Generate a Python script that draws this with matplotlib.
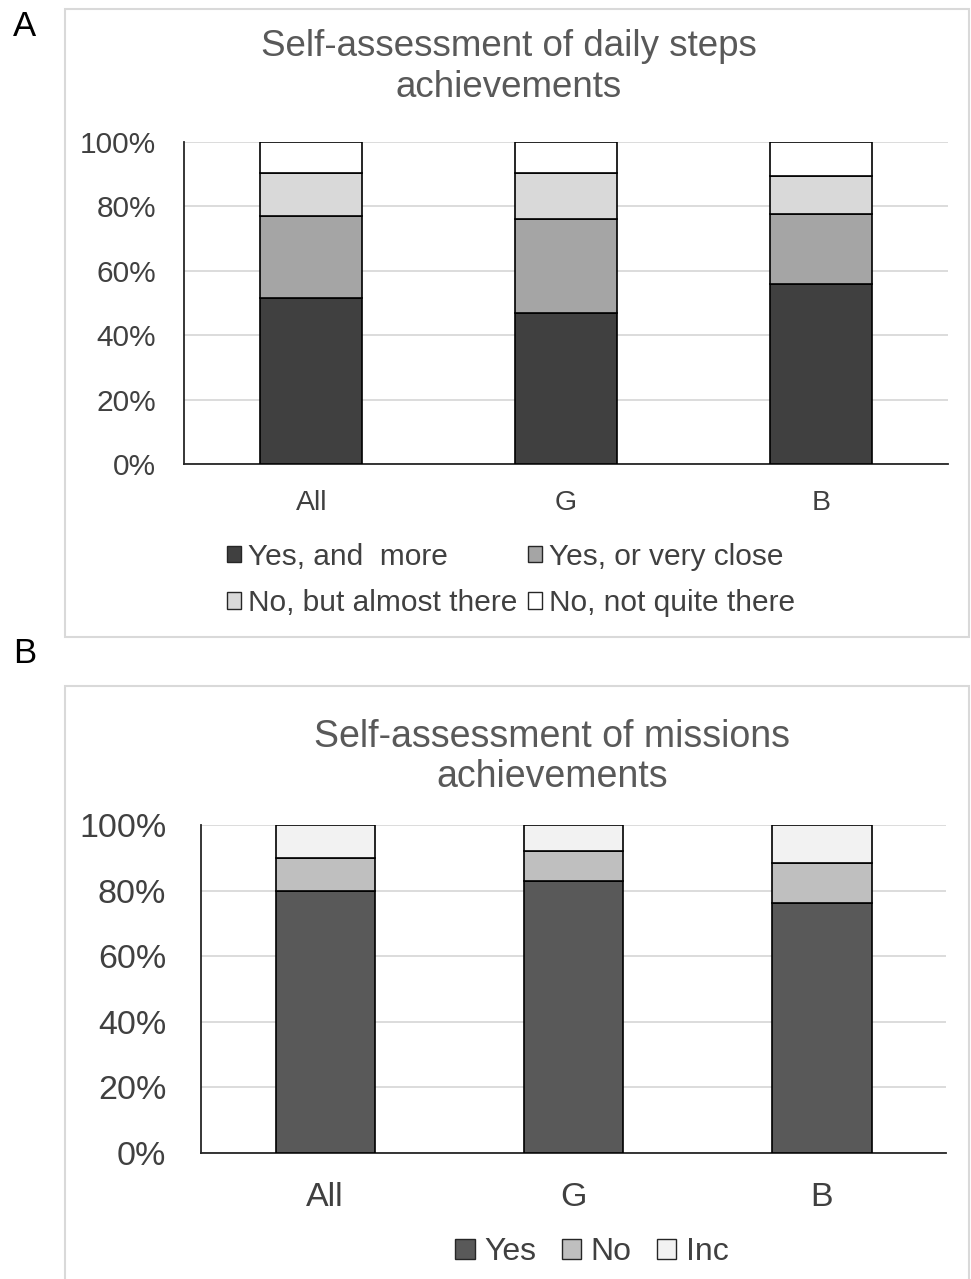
import matplotlib.pyplot as plt
from matplotlib.patches import Rectangle, Patch
from matplotlib.ticker import PercentFormatter

plt.rcParams['font.family'] = ['Liberation Sans', 'DejaVu Sans']

groups = ['All', 'G', 'B']

# daily steps self-assessment (share of answers)
steps_labels = ['Yes, and  more', 'Yes, or very close',
                'No, but almost there', 'No, not quite there']
steps_yes_more = [0.517, 0.470, 0.558]
steps_yes_close = [0.253, 0.292, 0.219]
steps_almost = [0.135, 0.143, 0.116]
steps_not_quite = [0.095, 0.095, 0.107]
steps_colors = ['#404040', '#a5a5a5', '#d9d9d9', '#ffffff']

# missions self-assessment
mission_labels = ['Yes', 'No', 'Inc']
mission_yes = [0.799, 0.828, 0.761]
mission_no = [0.099, 0.093, 0.124]
mission_inc = [0.102, 0.079, 0.115]
mission_colors = ['#595959', '#bfbfbf', '#f2f2f2']

txt = '#595959'
W, H = 971, 1279


def fx(px):
    return px / W


def fy(py):
    return 1 - py / H


def stacked(ax, series, colors, labels):
    bottom = [0.0] * len(groups)
    for vals, c, lab in zip(series, colors, labels):
        ax.bar(range(len(groups)), vals, 0.4, bottom=bottom, color=c,
               edgecolor='black', linewidth=1.2, label=lab, zorder=3)
        bottom = [b + v for b, v in zip(bottom, vals)]
    ax.set_xlim(-0.5, len(groups) - 0.5)
    ax.set_ylim(0, 1)
    ax.set_yticks([0, 0.2, 0.4, 0.6, 0.8, 1.0])
    ax.yaxis.set_major_formatter(PercentFormatter(1.0, decimals=0))
    ax.set_xticks(range(len(groups)))
    ax.set_xticklabels(groups)
    ax.grid(axis='y', color='#d9d9d9', linewidth=1.3, zorder=0)
    ax.set_axisbelow(True)
    for s in ['top', 'right']:
        ax.spines[s].set_visible(False)
    for s in ['left', 'bottom']:
        ax.spines[s].set_color('#262626')
        ax.spines[s].set_linewidth(1.3)


fig = plt.figure(figsize=(W / 100, H / 100), dpi=100)

# panel frames
fig.add_artist(Rectangle((fx(65), fy(637)), fx(969) - fx(65), fy(9) - fy(637),
                         transform=fig.transFigure, fill=False,
                         edgecolor='#d9d9d9', linewidth=1.5))
fig.add_artist(Rectangle((fx(65), fy(1290)), fx(969) - fx(65), fy(686) - fy(1290),
                         transform=fig.transFigure, fill=False,
                         edgecolor='#d9d9d9', linewidth=1.5))

fig.text(fx(13), fy(10), 'A', fontsize=25, va='top', ha='left', color='black')
fig.text(fx(13), fy(637), 'B', fontsize=25, va='top', ha='left', color='black')

# panel A
axA = fig.add_axes([fx(184), fy(464), fx(948) - fx(184), fy(142) - fy(464)])
stacked(axA, [steps_yes_more, steps_yes_close, steps_almost, steps_not_quite],
        steps_colors, steps_labels)
axA.tick_params(axis='y', length=0, pad=20, labelsize=21.5, labelcolor='#404040')
axA.tick_params(axis='x', length=0, pad=19, labelsize=20.5, labelcolor='#404040')
fig.text(fx(509), fy(67), 'Self-assessment of daily steps\nachievements',
         ha='center', va='center', fontsize=26.5, color=txt, linespacing=1.2)
hA = [Patch(facecolor=c, edgecolor='#262626', linewidth=1.0) for c in steps_colors]
# legend is filled column by column, so reorder to read across rows
order = [0, 2, 1, 3]
legA = fig.legend([hA[i] for i in order], [steps_labels[i] for i in order],
                  ncol=2, loc='center',
                  bbox_to_anchor=(fx(511), fy(580)), frameon=False,
                  fontsize=21.5, handlelength=0.47, handleheight=0.47,
                  handletextpad=0.25, columnspacing=0.35, labelspacing=0.62)
for t in legA.get_texts():
    t.set_color('#404040')

# panel B
axB = fig.add_axes([fx(201), fy(1153), fx(946) - fx(201), fy(825) - fy(1153)])
stacked(axB, [mission_yes, mission_no, mission_inc], mission_colors, mission_labels)
axB.tick_params(axis='y', length=0, pad=25, labelsize=24.5, labelcolor='#404040')
axB.tick_params(axis='x', length=0, pad=21, labelsize=24.5, labelcolor='#404040')
fig.text(fx(552), fy(757), 'Self-assessment of missions\nachievements',
         ha='center', va='center', fontsize=27, color=txt, linespacing=1.12)
hB = [Patch(facecolor=c, edgecolor='#262626', linewidth=1.0) for c in mission_colors]
legB = fig.legend(hB, mission_labels, ncol=3, loc='center',
                  bbox_to_anchor=(fx(592), fy(1252)), frameon=False,
                  fontsize=23, handlelength=0.6, handleheight=0.6,
                  handletextpad=0.3, columnspacing=0.8)
for t in legB.get_texts():
    t.set_color('#404040')

fig.savefig('out.png', dpi=100)
